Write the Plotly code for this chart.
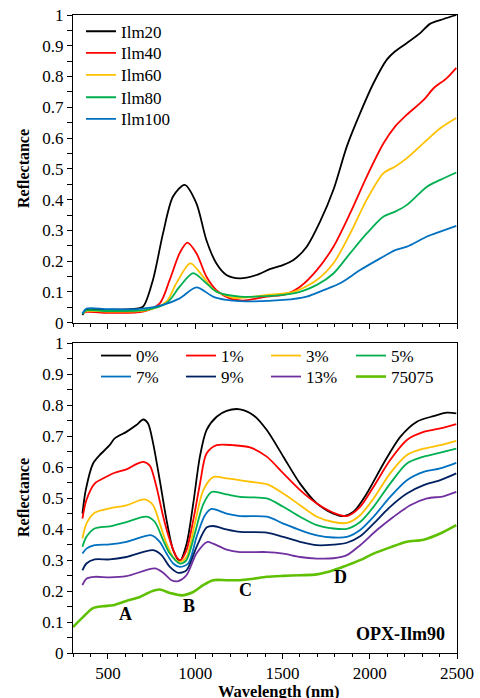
import plotly.graph_objects as go

# ---------------- data (top panel) ----------------
ilm20_wl = [354, 377, 500, 650, 701, 758, 816, 873, 940, 1007, 1064, 1121, 1179, 1255, 1351, 1427, 1505, 1563, 1639, 1716, 1792, 1869, 1945, 2022, 2098, 2146, 2213, 2289, 2347, 2423, 2496]
ilm20_r = [0.025, 0.042, 0.042, 0.045, 0.052, 0.139, 0.291, 0.41, 0.448, 0.388, 0.269, 0.193, 0.155, 0.144, 0.155, 0.174, 0.188, 0.204, 0.247, 0.329, 0.432, 0.573, 0.681, 0.779, 0.855, 0.882, 0.909, 0.941, 0.972, 0.987, 1.0]

ilm40_wl = [354, 377, 500, 701, 797, 854, 911, 955, 1007, 1064, 1121, 1198, 1274, 1410, 1524, 1601, 1697, 1792, 1888, 1983, 2079, 2146, 2213, 2309, 2366, 2442, 2496]
ilm40_r = [0.03, 0.035, 0.032, 0.036, 0.063, 0.139, 0.226, 0.26, 0.226, 0.15, 0.106, 0.079, 0.072, 0.085, 0.093, 0.117, 0.171, 0.247, 0.356, 0.475, 0.583, 0.638, 0.676, 0.724, 0.762, 0.795, 0.828]

ilm60_wl = [354, 377, 500, 720, 835, 892, 972, 1045, 1102, 1218, 1410, 1563, 1697, 1792, 1888, 1983, 2079, 2146, 2213, 2328, 2404, 2496]
ilm60_r = [0.03, 0.038, 0.036, 0.04, 0.068, 0.128, 0.193, 0.15, 0.109, 0.081, 0.09, 0.10, 0.139, 0.193, 0.29, 0.40, 0.486, 0.508, 0.535, 0.594, 0.632, 0.665]

ilm80_wl = [354, 377, 500, 720, 835, 911, 988, 1064, 1121, 1257, 1563, 1697, 1792, 1888, 1983, 2079, 2146, 2213, 2328, 2404, 2496]
ilm80_r = [0.028, 0.04, 0.038, 0.042, 0.063, 0.117, 0.161, 0.128, 0.101, 0.085, 0.095, 0.123, 0.16, 0.226, 0.29, 0.345, 0.361, 0.383, 0.442, 0.464, 0.488]

ilm100_wl = [354, 377, 500, 683, 816, 911, 1007, 1102, 1179, 1257, 1505, 1639, 1735, 1830, 1945, 2060, 2146, 2213, 2328, 2404, 2496]
ilm100_r = [0.03, 0.046, 0.044, 0.045, 0.058, 0.079, 0.115, 0.085, 0.074, 0.07, 0.074, 0.085, 0.106, 0.128, 0.171, 0.209, 0.236, 0.247, 0.28, 0.296, 0.315]

# ---------------- data (bottom panel) ----------------
p0_wl = [354, 373, 415, 453, 510, 539, 606, 663, 702, 730, 759, 797, 836, 874, 912, 951, 989, 1027, 1065, 1123, 1180, 1257, 1333, 1410, 1505, 1601, 1697, 1792, 1850, 1907, 1983, 2079, 2175, 2270, 2366, 2442, 2496]
p0_r = [0.45, 0.526, 0.612, 0.639, 0.671, 0.693, 0.714, 0.736, 0.754, 0.741, 0.677, 0.558, 0.429, 0.332, 0.297, 0.353, 0.483, 0.634, 0.72, 0.763, 0.782, 0.787, 0.768, 0.72, 0.634, 0.547, 0.483, 0.45, 0.442, 0.456, 0.515, 0.612, 0.698, 0.747, 0.765, 0.776, 0.774]

p1_wl = [354, 377, 424, 491, 539, 606, 663, 702, 740, 778, 817, 855, 893, 916, 950, 989, 1027, 1065, 1123, 1218, 1314, 1410, 1505, 1601, 1697, 1792, 1869, 1945, 2022, 2117, 2213, 2309, 2404, 2496]
p1_r = [0.434, 0.494, 0.547, 0.569, 0.582, 0.593, 0.61, 0.617, 0.605, 0.537, 0.44, 0.364, 0.31, 0.30, 0.332, 0.429, 0.545, 0.644, 0.671, 0.671, 0.664, 0.634, 0.58, 0.526, 0.483, 0.453, 0.442, 0.472, 0.537, 0.623, 0.688, 0.714, 0.725, 0.739]

p3_wl = [354, 377, 424, 510, 606, 711, 759, 797, 836, 874, 912, 950, 998, 1046, 1103, 1180, 1314, 1410, 1505, 1601, 1697, 1792, 1869, 1945, 2022, 2117, 2213, 2309, 2404, 2496]
p3_r = [0.37, 0.418, 0.453, 0.467, 0.477, 0.496, 0.477, 0.418, 0.353, 0.31, 0.294, 0.31, 0.418, 0.525, 0.568, 0.564, 0.553, 0.545, 0.515, 0.477, 0.44, 0.423, 0.42, 0.445, 0.499, 0.58, 0.639, 0.66, 0.671, 0.685]

p5_wl = [354, 377, 424, 510, 606, 721, 769, 817, 855, 912, 950, 998, 1046, 1094, 1180, 1257, 1410, 1505, 1601, 1697, 1792, 1869, 1945, 2022, 2117, 2213, 2309, 2404, 2496]
p5_r = [0.343, 0.375, 0.402, 0.409, 0.423, 0.44, 0.423, 0.364, 0.321, 0.289, 0.30, 0.386, 0.48, 0.52, 0.512, 0.504, 0.499, 0.472, 0.44, 0.413, 0.402, 0.401, 0.423, 0.472, 0.547, 0.612, 0.634, 0.647, 0.66]

p7_wl = [354, 377, 424, 510, 606, 750, 797, 836, 874, 912, 960, 1008, 1056, 1094, 1180, 1257, 1410, 1505, 1601, 1697, 1792, 1869, 1945, 2022, 2117, 2213, 2309, 2404, 2496]
p7_r = [0.321, 0.337, 0.348, 0.351, 0.359, 0.38, 0.359, 0.321, 0.289, 0.278, 0.289, 0.375, 0.445, 0.465, 0.45, 0.442, 0.44, 0.418, 0.397, 0.38, 0.373, 0.375, 0.397, 0.44, 0.504, 0.558, 0.585, 0.596, 0.614]

p9_wl = [354, 377, 424, 510, 606, 759, 807, 855, 903, 950, 1008, 1065, 1103, 1180, 1257, 1410, 1505, 1601, 1697, 1792, 1869, 1945, 2022, 2117, 2213, 2309, 2404, 2496]
p9_r = [0.267, 0.289, 0.302, 0.302, 0.31, 0.332, 0.316, 0.278, 0.259, 0.267, 0.343, 0.405, 0.41, 0.399, 0.391, 0.389, 0.375, 0.359, 0.348, 0.35, 0.356, 0.377, 0.418, 0.472, 0.515, 0.542, 0.558, 0.58]

p13_wl = [354, 377, 424, 510, 606, 769, 817, 864, 903, 950, 1008, 1070, 1103, 1180, 1257, 1410, 1505, 1601, 1697, 1792, 1869, 1945, 2041, 2137, 2232, 2328, 2423, 2496]
p13_r = [0.219, 0.24, 0.246, 0.244, 0.248, 0.273, 0.259, 0.235, 0.232, 0.251, 0.322, 0.359, 0.353, 0.334, 0.326, 0.326, 0.321, 0.31, 0.305, 0.306, 0.316, 0.348, 0.397, 0.44, 0.477, 0.499, 0.506, 0.52]

s75075_wl = [300, 357, 415, 472, 530, 606, 683, 750, 797, 855, 922, 989, 1046, 1103, 1180, 1257, 1333, 1410, 1505, 1601, 1697, 1792, 1869, 1945, 2022, 2117, 2213, 2309, 2404, 2496]
s75075_r = [0.084, 0.116, 0.145, 0.151, 0.154, 0.168, 0.181, 0.199, 0.205, 0.194, 0.186, 0.197, 0.219, 0.235, 0.235, 0.235, 0.24, 0.246, 0.249, 0.251, 0.254, 0.267, 0.283, 0.30, 0.321, 0.341, 0.359, 0.366, 0.386, 0.413]

top_names = ["Ilm20", "Ilm40", "Ilm60", "Ilm80", "Ilm100"]
bottom_names = ["0%", "1%", "3%", "5%", "7%", "9%", "13%", "75075"]

band_labels = ["A", "B", "C", "D"]
band_wl = [602, 964, 1288, 1832]
band_r = [0.125, 0.153, 0.203, 0.244]

x_tick_vals = [500, 1000, 1500, 2000, 2500]
y_tick_vals = [0, 0.1, 0.2, 0.3, 0.4, 0.5, 0.6, 0.7, 0.8, 0.9, 1]
y_tick_text = ["0", "0.1", "0.2", "0.3", "0.4", "0.5", "0.6", "0.7", "0.8", "0.9", "1"]

# ---------------- styling ----------------
FONT = "Liberation Serif"
top_colors = ["#000000", "#FF0000", "#FFC000", "#00B050", "#0070C0"]
bottom_colors = ["#000000", "#FF0000", "#FFC000", "#00B050", "#0070C0", "#002060", "#7030A0", "#5EC000"]

W, H = 480, 698
plot_l, plot_r, plot_t, plot_b = 73, W - 23, 15, H - 45
pw, ph = plot_r - plot_l, plot_b - plot_t


def px_to_paper(px, py):
    return (px - plot_l) / pw, (plot_b - py) / ph


fig = go.Figure()

# one legend per top entry so the row spacing follows the original
top_legend_ids = ["legend", "legend4", "legend5", "legend6", "legend7"]
top_series = [(ilm20_wl, ilm20_r), (ilm40_wl, ilm40_r), (ilm60_wl, ilm60_r),
              (ilm80_wl, ilm80_r), (ilm100_wl, ilm100_r)]
for (wl, r), name, c, lg in zip(top_series, top_names, top_colors, top_legend_ids):
    fig.add_trace(go.Scatter(x=wl, y=r, name=name, mode="lines",
                             line=dict(color=c, width=1.8, shape="spline", smoothing=0.8),
                             xaxis="x", yaxis="y", legend=lg))

bottom_series = [(p0_wl, p0_r), (p1_wl, p1_r), (p3_wl, p3_r), (p5_wl, p5_r),
                 (p7_wl, p7_r), (p9_wl, p9_r), (p13_wl, p13_r), (s75075_wl, s75075_r)]
for i, ((wl, r), name, c) in enumerate(zip(bottom_series, bottom_names, bottom_colors)):
    fig.add_trace(go.Scatter(x=wl, y=r, name=name, mode="lines",
                             line=dict(color=c, width=2.6 if name == "75075" else 1.8,
                                       shape="spline", smoothing=0.8),
                             xaxis="x2", yaxis="y2",
                             legend="legend2" if i < 4 else "legend3"))

axis_common = dict(showline=True, linecolor="black", linewidth=1, mirror=True,
                   showgrid=False, zeroline=False, ticks="outside", tickcolor="black",
                   tickfont=dict(family=FONT, size=17, color="black"))

xcommon = dict(axis_common, range=[300, 2500], tickvals=x_tick_vals, ticklen=5,
               minor=dict(dtick=100, tick0=0, ticks="outside", ticklen=3, tickcolor="black"))
ycommon = dict(axis_common, range=[0, 1], tickvals=y_tick_vals, ticktext=y_tick_text, ticklen=5,
               minor=dict(dtick=0.05, tick0=0, ticks="outside", ticklen=5, tickcolor="black"))

legend_common = dict(font=dict(family=FONT, size=17, color="black"), bgcolor="rgba(0,0,0,0)",
                     itemwidth=30, tracegroupgap=0, xanchor="left", yanchor="middle")

layout_legends = {}
top_rows_py = [31.7, 53.3, 75.3, 97.7, 119.3]
for lg, py in zip(top_legend_ids, top_rows_py):
    lx, ly = px_to_paper(81, py)
    layout_legends[lg] = dict(legend_common, x=lx, y=ly, orientation="v")
for lg, py in zip(["legend2", "legend3"], [356, 377]):
    lx, ly = px_to_paper(96, py)
    layout_legends[lg] = dict(legend_common, x=lx, y=ly, orientation="h",
                              entrywidth=40, entrywidthmode="pixels")

fig.update_layout(
    width=W, height=H,
    margin=dict(l=plot_l, r=W - plot_r, t=plot_t, b=H - plot_b, autoexpand=False),
    paper_bgcolor="white", plot_bgcolor="white",
    font=dict(family=FONT, color="black"),
    xaxis=dict(xcommon, domain=[0, 1], anchor="y", showticklabels=False),
    yaxis=dict(ycommon, domain=[0.5177, 1], anchor="x"),
    xaxis2=dict(xcommon, domain=[0, 1], anchor="y2"),
    yaxis2=dict(ycommon, domain=[0, 0.4854], anchor="x2"),
    showlegend=True,
    **layout_legends,
)

for lab, wl, r in zip(band_labels, band_wl, band_r):
    fig.add_annotation(x=wl, y=r, xref="x2", yref="y2", text=lab, showarrow=False,
                       font=dict(family=FONT, size=18, color="black", weight="bold"))

fig.add_annotation(x=2442, y=0.06, xref="x2", yref="y2", text="OPX-Ilm90", showarrow=False,
                   xanchor="right", font=dict(family=FONT, size=18, color="black", weight="bold"))

for yc in [169, 498]:
    ax_, ay_ = px_to_paper(23, yc)
    fig.add_annotation(x=ax_, y=ay_, xref="paper", yref="paper", text="Reflectance",
                       showarrow=False, textangle=-90, xanchor="center", yanchor="middle",
                       font=dict(family=FONT, size=16, color="black", weight="bold"))
wx, wy = px_to_paper(278, 691)
fig.add_annotation(x=wx, y=wy, xref="paper", yref="paper", text="Wavelength (nm)",
                   showarrow=False, xanchor="center", yanchor="middle",
                   font=dict(family=FONT, size=16.5, color="black", weight="bold"))

fig.write_html("out.html", config={"displayModeBar": False},
               post_script="document.body.style.margin='0px';document.body.style.overflow='hidden';")
